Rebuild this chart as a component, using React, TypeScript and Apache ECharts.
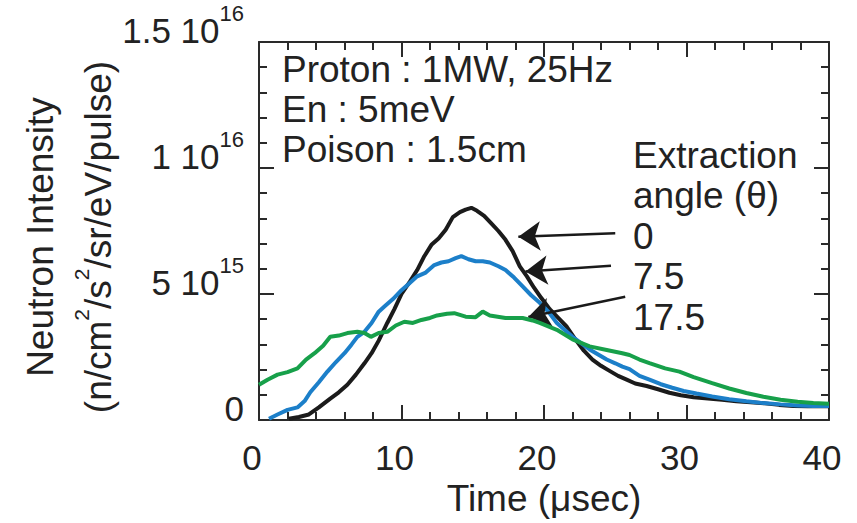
import React, { useEffect, useRef } from "react";
import * as echarts from "echarts";

// ---- Data (intensity in units of 1e15 n/cm2/s2/sr/eV/pulse) ----
const blackTime = [2.1, 2.8, 3.5, 4.2, 5.0, 5.6, 6.2, 6.8, 7.4, 7.9, 8.4, 9.0, 9.5, 10.0, 10.6, 11.1, 11.6, 12.1, 12.6, 13.1, 13.6, 14.1, 14.5, 14.9, 15.3, 15.8, 16.3, 16.8, 17.3, 17.8, 18.3, 18.8, 19.3, 19.8, 20.4, 21.0, 21.6, 22.2, 22.8, 23.4, 24.0, 24.6, 25.2, 25.8, 26.4, 27.2, 28.0, 28.8, 29.6, 30.5, 31.5, 32.5, 33.5, 34.5, 35.5, 36.5, 37.5, 38.5, 39.3, 40.0];
const blackValue = [0.05, 0.12, 0.22, 0.5, 0.85, 1.1, 1.4, 1.8, 2.25, 2.65, 3.15, 3.85, 4.4, 5.0, 5.5, 5.95, 6.5, 6.95, 7.2, 7.55, 8.05, 8.25, 8.35, 8.42, 8.3, 8.1, 7.8, 7.5, 7.15, 6.7, 6.1, 5.7, 5.25, 4.85, 4.4, 4.05, 3.7, 3.2, 2.75, 2.4, 2.15, 1.95, 1.75, 1.6, 1.45, 1.35, 1.22, 1.08, 0.98, 0.9, 0.85, 0.8, 0.74, 0.7, 0.66, 0.6, 0.56, 0.55, 0.56, 0.55];

const blueTime = [0.7, 1.3, 2.0, 2.7, 3.2, 3.6, 4.2, 4.8, 5.4, 6.0, 6.5, 6.9, 7.4, 7.9, 8.4, 8.8, 9.4, 10.0, 10.5, 11.1, 11.7, 12.3, 12.8, 13.3, 13.8, 14.2, 14.7, 15.2, 15.7, 16.2, 16.8, 17.3, 17.9, 18.5, 19.1, 19.7, 20.3, 20.9, 21.5, 22.0, 22.6, 23.2, 23.8, 24.4, 25.0, 25.5, 26.0, 26.7, 27.4, 28.2, 29.0, 29.8, 30.7, 31.8, 33.0, 34.2, 35.4, 36.6, 37.8, 38.9, 40.0];
const blueValue = [0.05, 0.22, 0.4, 0.5, 0.75, 1.1, 1.5, 1.92, 2.3, 2.65, 3.0, 3.3, 3.5, 3.85, 4.3, 4.5, 4.8, 5.15, 5.4, 5.7, 5.85, 6.15, 6.25, 6.3, 6.42, 6.5, 6.38, 6.3, 6.3, 6.25, 6.1, 5.95, 5.65, 5.3, 4.95, 4.65, 4.3, 3.85, 3.55, 3.3, 3.05, 2.8, 2.6, 2.4, 2.25, 2.12, 2.02, 1.75, 1.6, 1.42, 1.28, 1.15, 1.05, 0.93, 0.82, 0.74, 0.67, 0.62, 0.58, 0.56, 0.56];

const greenTime = [0, 0.6, 1.3, 2.0, 2.7, 3.3, 3.9, 4.5, 5.0, 5.6, 6.2, 6.9, 7.4, 7.85, 8.4, 9.0, 9.6, 10.2, 10.8, 11.4, 12.0, 12.5, 13.2, 13.7, 14.5, 15.2, 15.7, 16.2, 17.3, 18.5, 19.2, 19.7, 20.9, 22.0, 23.2, 24.4, 25.5, 26.0, 26.7, 27.4, 28.5, 29.5, 30.5, 31.8, 33.0, 34.2, 35.4, 36.6, 37.8, 38.9, 40.0];
const greenValue = [1.4, 1.6, 1.8, 1.9, 2.05, 2.4, 2.65, 2.95, 3.3, 3.35, 3.45, 3.5, 3.45, 3.3, 3.45, 3.5, 3.75, 3.9, 3.85, 3.97, 4.05, 4.15, 4.22, 4.24, 4.1, 4.08, 4.3, 4.15, 4.05, 4.05, 3.95, 3.85, 3.58, 3.2, 2.92, 2.78, 2.65, 2.58, 2.4, 2.26, 2.05, 1.92, 1.7, 1.46, 1.25, 1.07, 0.92, 0.8, 0.72, 0.67, 0.64];

// tick labels of the intensity axis
const yTickValues = [0, 5, 10, 15];
const yTickBases = ["0", "5 10", "1 10", "1.5 10"];
const yTickExps = ["", "15", "16", "16"];

// annotation texts
const conditionLines = ["Proton : 1MW, 25Hz", "En : 5meV", "Poison : 1.5cm"];
const legendLines = ["Extraction", "angle (θ)", "0", "7.5", "17.5"];
// arrows: [tail time, tail intensity, head time, head intensity]
const arrowCoords = [
  [25.0, 7.41, 18.2, 7.27],
  [24.7, 6.12, 18.7, 5.89],
  [25.7, 4.89, 18.9, 4.09],
];

const FONT = '"Liberation Sans", Arial, Helvetica, sans-serif';
const INK = "#222222";
const AXIS = "#2a2a2a";

// ticks pointing into the plot (negative length = inward)
const tickStyle = {
  axisLine: { show: true, onZero: false, lineStyle: { color: AXIS, width: 2 } },
  axisTick: { show: true, inside: false, length: -15, lineStyle: { color: AXIS, width: 2 } },
  minorTick: { show: true, splitNumber: 5, length: -8, lineStyle: { color: AXIS, width: 2 } },
  splitLine: { show: false },
  minorSplitLine: { show: false },
};

export default function App() {
  const ref = useRef<HTMLDivElement>(null);
  useEffect(() => {
    const chart = echarts.init(ref.current!, null, { renderer: "svg" });
    const toPairs = (t: number[], v: number[]) => t.map((x, i) => [x, v[i]]);
    const option: any = {
      animation: false,
      backgroundColor: "#ffffff",
      grid: { left: 259, right: 28, top: 42, bottom: 103, containLabel: false },
      xAxis: [
        {
          type: "value",
          min: 0,
          max: 40,
          interval: 10,
          position: "bottom",
          ...tickStyle,
          name: "Time (μsec)",
          nameLocation: "middle",
          nameGap: 60,
          nameTextStyle: { fontFamily: FONT, fontSize: 37, color: INK },
          axisLabel: { show: true, margin: 20, fontFamily: FONT, fontSize: 35, color: INK, padding: [0, 14, 0, 0] },
        },
        {
          type: "value",
          min: 0,
          max: 40,
          interval: 10,
          position: "top",
          ...tickStyle,
          axisLabel: { show: false },
        },
      ],
      yAxis: [
        {
          type: "value",
          min: 0,
          max: 15,
          interval: 5,
          position: "left",
          ...tickStyle,
          axisLabel: {
            show: true,
            margin: 15,
            padding: [0, 0, 34, 0],
            formatter: (v: number) => {
              const i = yTickValues.indexOf(v);
              if (i < 0) return "";
              return yTickExps[i] ? `{b|${yTickBases[i]}}{s|${yTickExps[i]}}` : `{b|${yTickBases[i]}}`;
            },
            rich: {
              b: { fontFamily: FONT, fontSize: 35, color: INK, lineHeight: 46, verticalAlign: "bottom" },
              s: { fontFamily: FONT, fontSize: 22, color: INK, lineHeight: 22, verticalAlign: "top" },
            },
          },
        },
        {
          type: "value",
          min: 0,
          max: 15,
          interval: 5,
          position: "right",
          ...tickStyle,
          axisLabel: { show: false },
        },
      ],
      series: [
        {
          name: "0",
          type: "line",
          data: toPairs(blackTime, blackValue),
          showSymbol: false,
          symbol: "none",
          lineStyle: { color: "#1b1b1b", width: 4 },
          itemStyle: { color: "#1b1b1b" },
          z: 3,
        },
        {
          name: "7.5",
          type: "line",
          data: toPairs(blueTime, blueValue),
          showSymbol: false,
          symbol: "none",
          lineStyle: { color: "#1c7fc9", width: 4 },
          itemStyle: { color: "#1c7fc9" },
          z: 4,
        },
        {
          name: "17.5",
          type: "line",
          data: toPairs(greenTime, greenValue),
          showSymbol: false,
          symbol: "none",
          lineStyle: { color: "#17a04a", width: 4 },
          itemStyle: { color: "#17a04a" },
          z: 5,
          markLine: {
            silent: true,
            symbol: ["none", "arrow"],
            symbolSize: 22,
            label: { show: false },
            lineStyle: { color: "#1a1a1a", width: 2.5, type: "solid" },
            emphasis: { disabled: true },
            data: arrowCoords.map((a) => [{ coord: [a[0], a[1]] }, { coord: [a[2], a[3]] }]),
          },
        },
      ],
      graphic: [
        ...conditionLines.map((t, i) => ({
          type: "text",
          x: 282,
          y: 69 + i * 40,
          style: { text: t, fontFamily: FONT, fontSize: 37, fill: INK, align: "left", verticalAlign: "middle" },
        })),
        ...legendLines.map((t, i) => ({
          type: "text",
          x: 633,
          y: 155 + i * 40.5,
          style: { text: t, fontFamily: FONT, fontSize: 37, fill: INK, align: "left", verticalAlign: "middle" },
        })),
        {
          type: "text",
          x: 63,
          y: 237,
          rotation: Math.PI / 2,
          style: {
            text: "{a|Neutron Intensity}\n{n|(n/cm}{s|2}{n|/s}{s|2}{n|/sr/eV/pulse)}",
            align: "center",
            verticalAlign: "middle",
            fill: INK,
            rich: {
              a: { fontFamily: FONT, fontSize: 37, fill: INK, lineHeight: 62 },
              n: { fontFamily: FONT, fontSize: 37, fill: INK, lineHeight: 46, verticalAlign: "bottom" },
              s: { fontFamily: FONT, fontSize: 21, fill: INK, lineHeight: 21, verticalAlign: "top" },
            },
          },
        },
      ],
    };
    chart.setOption(option);
    return () => chart.dispose();
  }, []);
  return (
    <div
      ref={ref}
      style={{ position: "fixed", left: 0, top: 0, width: 857, height: 523, background: "#fff" }}
    />
  );
}
